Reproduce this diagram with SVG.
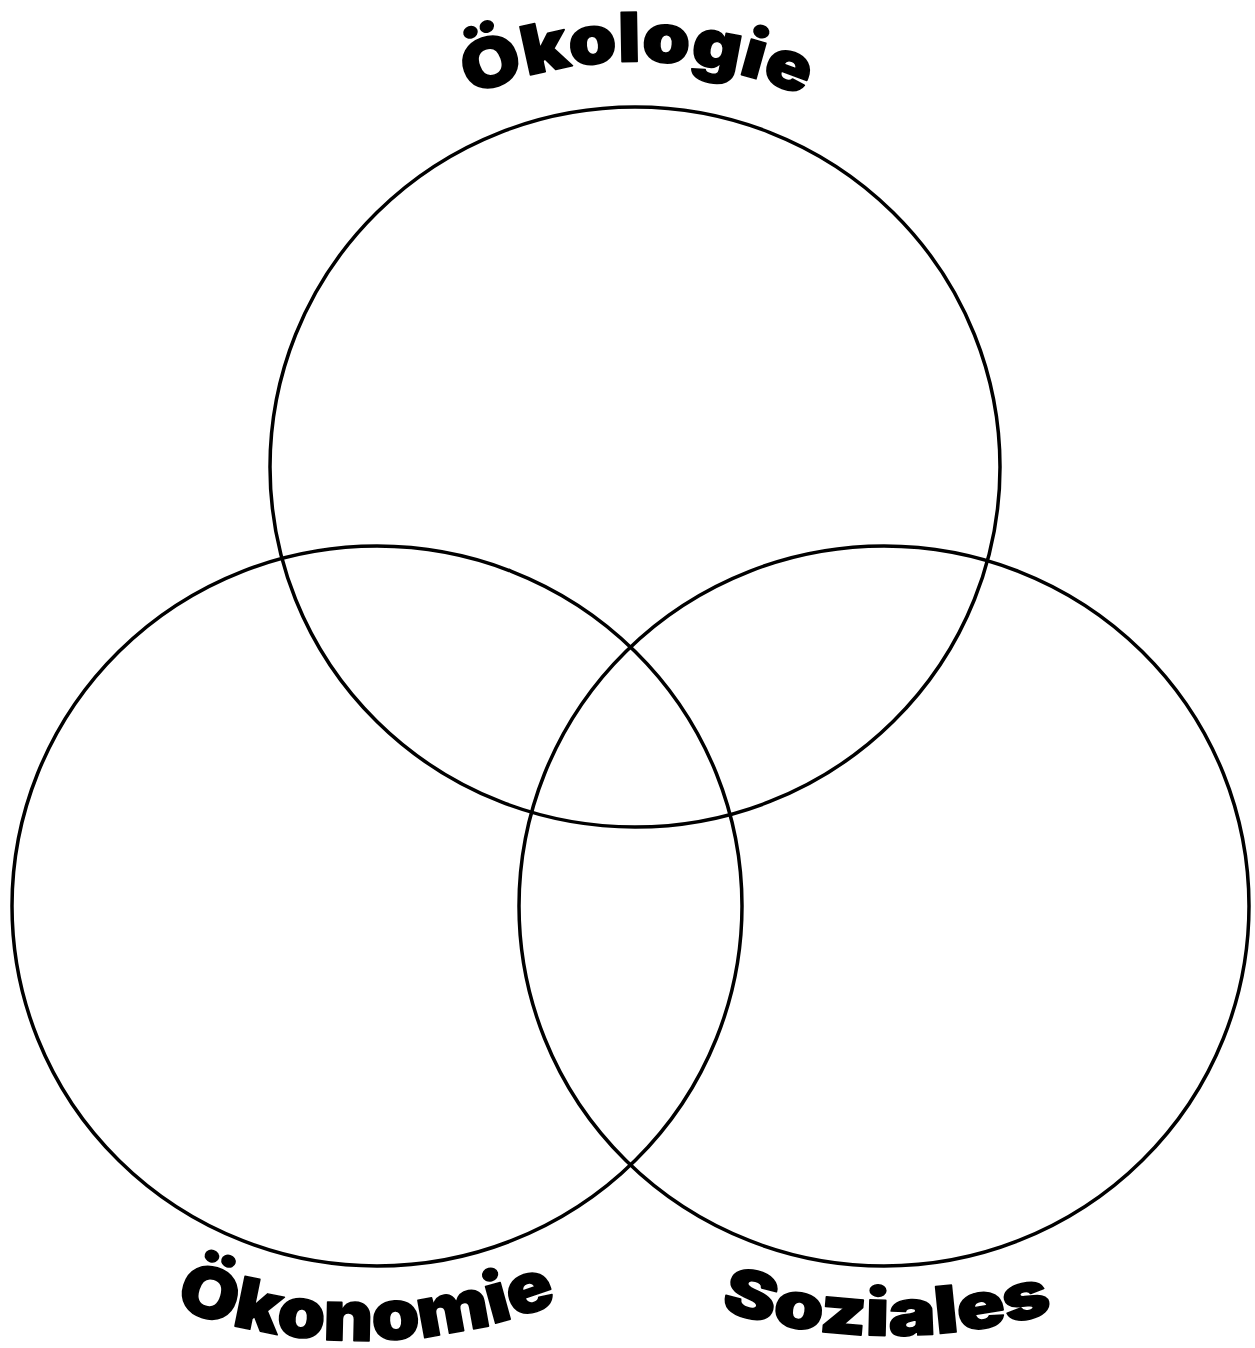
<svg xmlns="http://www.w3.org/2000/svg" xmlns:xlink="http://www.w3.org/1999/xlink" width="1255" height="1348" viewBox="0 0 1255 1348">
<style>
.c{fill:none;stroke:#000;stroke-width:3.5}
.t{font-family:Inter,"Liberation Sans","DejaVu Sans",sans-serif;font-weight:900;fill:#000;stroke:#000;stroke-width:1.5;stroke-linejoin:round}
</style>
<defs>
<path id="p1" d="M 430,117 A 414 414 0 0 1 844,117"/>
<path id="p2" d="M 50.3,1243 A 540 540 0 0 0 669.7,1243"/>
<path id="p3" d="M 600,1258 A 580 580 0 0 0 1180,1258"/>
</defs>
<rect width="1255" height="1348" fill="#fff"/>
<g id="oekologie">
<ellipse class="c" cx="635" cy="467" rx="365" ry="360"/>
<text class="t" font-size="68"><textPath xlink:href="#p1" href="#p1" startOffset="50%" text-anchor="middle" textLength="342" lengthAdjust="spacingAndGlyphs">Ökologie</textPath></text>
</g>
<g id="oekonomie">
<ellipse class="c" cx="377" cy="906" rx="365" ry="360"/>
<text class="t" font-size="70"><textPath xlink:href="#p2" href="#p2" startOffset="51%" text-anchor="middle" textLength="392" lengthAdjust="spacingAndGlyphs">Ökonomie</textPath></text>
</g>
<g id="soziales">
<ellipse class="c" cx="884" cy="906" rx="365" ry="360"/>
<text class="t" font-size="65"><textPath xlink:href="#p3" href="#p3" startOffset="49.4%" text-anchor="middle" textLength="338" lengthAdjust="spacingAndGlyphs">Soziales</textPath></text>
</g>
<g id="connectors"/>
</svg>
